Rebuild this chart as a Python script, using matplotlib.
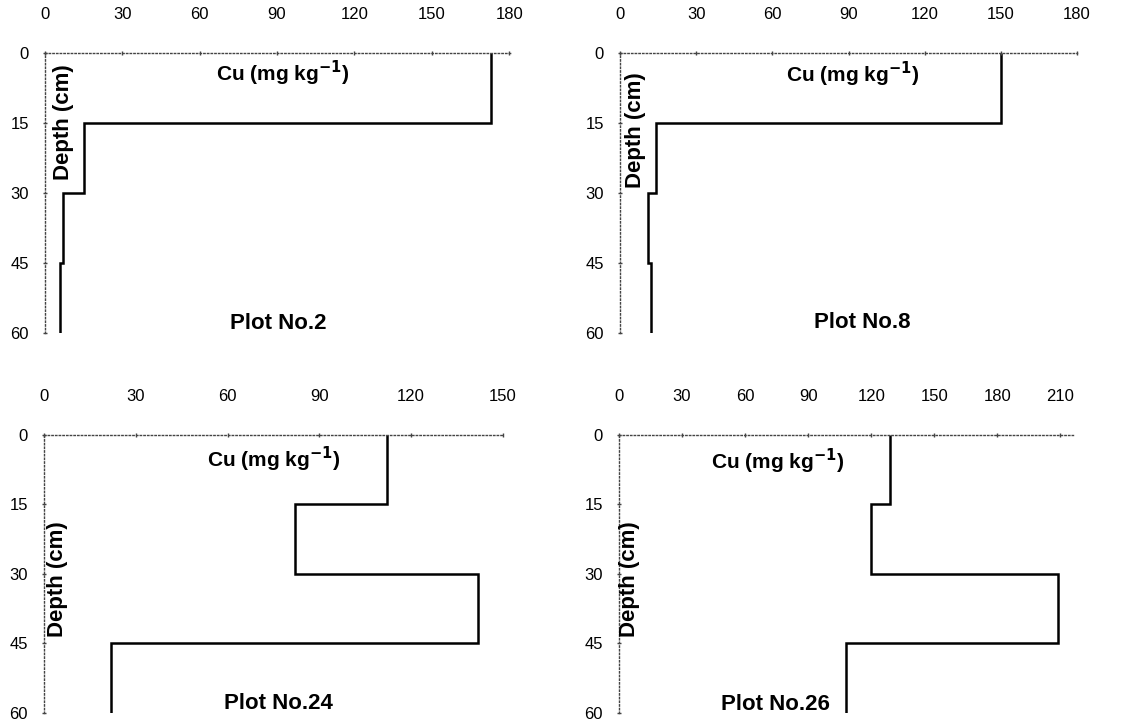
import numpy as np
import matplotlib.pyplot as plt

plt.rcParams['font.family'] = ['Liberation Sans', 'DejaVu Sans']
plt.rcParams['mathtext.default'] = 'bf'

# depth layer boundaries (cm)
depth_edges = [0, 15, 30, 45, 60]
depth_ticks = [0, 15, 30, 45, 60]

# Cu concentration per layer (mg/kg)
cu_plot2 = [173, 15, 7, 6]
cu_plot8 = [150, 14, 11, 12]
cu_plot24 = [112, 82, 142, 22]
cu_plot26 = [129, 120, 209, 108]

titles = ['Plot No.2', 'Plot No.8', 'Plot No.24', 'Plot No.26']
x_ticks = [
    [0, 30, 60, 90, 120, 150, 180],
    [0, 30, 60, 90, 120, 150, 180],
    [0, 30, 60, 90, 120, 150],
    [0, 30, 60, 90, 120, 150, 180, 210],
]
x_max = [181, 180, 149, 216]

# axes boxes in figure fraction [left, bottom, width, height]
boxes = [
    [0.0393, 0.538, 0.408, 0.388],
    [0.542, 0.538, 0.3995, 0.388],
    [0.0385, 0.011, 0.401, 0.386],
    [0.541, 0.011, 0.397, 0.386],
]
# label positions (axes fraction)
cu_pos = [(0.51, 0.93), (0.51, 0.925), (0.50, 0.91), (0.35, 0.905)]
depth_pos = [(0.039, 0.754), (0.033, 0.725), (0.03, 0.48), (0.024, 0.48)]
title_pos = [(0.50, 0.033), (0.53, 0.037), (0.51, 0.033), (0.344, 0.03)]

data = [cu_plot2, cu_plot8, cu_plot24, cu_plot26]

fig = plt.figure(figsize=(11.44, 7.21), dpi=100)

for i in range(4):
    ax = fig.add_axes(boxes[i])
    ax.stairs(data[i], depth_edges, orientation='horizontal', baseline=None,
              color='black', linewidth=1.8)
    ax.set_ylim(60, 0)
    ax.set_xlim(0, x_max[i])
    ax.set_yticks(depth_ticks)
    ax.set_xticks(x_ticks[i])
    ax.xaxis.tick_top()
    for s in ['right', 'bottom']:
        ax.spines[s].set_visible(False)
    for s in ['top', 'left']:
        ax.spines[s].set_linestyle(':')
        ax.spines[s].set_color('#444444')
        ax.spines[s].set_linewidth(1.0)
    ax.tick_params(axis='x', direction='inout', length=3, width=1, color='#444444',
                   labelsize=12, pad=21)
    ax.tick_params(axis='y', direction='inout', length=3, width=1, color='#444444',
                   labelsize=12, pad=10)
    ax.text(cu_pos[i][0], cu_pos[i][1], 'Cu (mg kg$^{-1}$)', transform=ax.transAxes,
            ha='center', va='center', fontsize=15, fontweight='bold')
    ax.text(depth_pos[i][0], depth_pos[i][1], 'Depth (cm)', transform=ax.transAxes,
            ha='center', va='center', rotation=90, fontsize=16, fontweight='bold')
    ax.text(title_pos[i][0], title_pos[i][1], titles[i], transform=ax.transAxes,
            ha='center', va='center', fontsize=16, fontweight='bold')
    ax.patch.set_alpha(0)

fig.savefig('out.png', dpi=100)
